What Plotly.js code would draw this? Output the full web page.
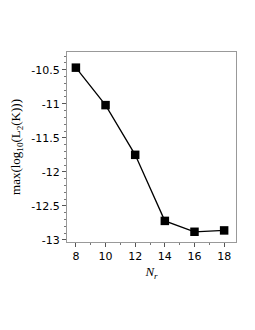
<!DOCTYPE html>
<html><head><meta charset="utf-8">
<script src="https://cdn.plot.ly/plotly-3.0.1.min.js"></script>
<style>html,body{margin:0;padding:0;background:#fff}</style>
</head><body>
<div id="chart" style="width:255px;height:330px"></div>
<script>
var nr = [8, 10, 12, 14, 16, 18];
var maxLog = [-10.47, -11.02, -11.75, -12.72, -12.88, -12.86];
var yTickVals = [-10.5, -11, -11.5, -12, -12.5, -13];
var yTickText = ['-10.5', '-11', '-11.5', '-12', '-12.5', '-13'];
var xTickVals = [8, 10, 12, 14, 16, 18];

var trace = {
  x: nr, y: maxLog, type: 'scatter', mode: 'lines+markers',
  line: {color: '#000', width: 1.3},
  marker: {symbol: 'square', size: 8.5, color: '#000'},
  showlegend: false
};
var layout = {
  width: 255, height: 330,
  margin: {l: 67, r: 19, t: 52, b: 88},
  paper_bgcolor: '#fff', plot_bgcolor: '#fff',
  font: {family: 'DejaVu Sans, sans-serif', size: 11, color: '#000'},
  xaxis: {
    range: [7.4, 18.8], tickvals: xTickVals, ticks: 'outside', ticklen: 4,
    tickcolor: '#555', showgrid: false, zeroline: false,
    showline: true, linecolor: '#999', linewidth: 1, mirror: true,
    minor: {dtick: 1, ticklen: 2, tickcolor: '#777', ticks: 'outside'},
    title: {text: '<i>N<sub>r</sub></i>', font: {family: 'Liberation Serif, serif', size: 13}, standoff: 4}
  },
  yaxis: {
    range: [-13.03, -10.24], tickvals: yTickVals, ticktext: yTickText,
    ticks: 'outside', ticklen: 4, tickcolor: '#555', showgrid: false, zeroline: false,
    showline: true, linecolor: '#999', linewidth: 1, mirror: true,
    minor: {dtick: 0.1, ticklen: 2, tickcolor: '#777', ticks: 'outside'},
    title: {text: 'max(log<sub>10</sub>(L<sub>2</sub>(K)))', font: {family: 'Liberation Serif, serif', size: 13}, standoff: 7}
  }
};
Plotly.newPlot('chart', [trace], layout, {displayModeBar: false, staticPlot: true});
</script>
</body></html>
